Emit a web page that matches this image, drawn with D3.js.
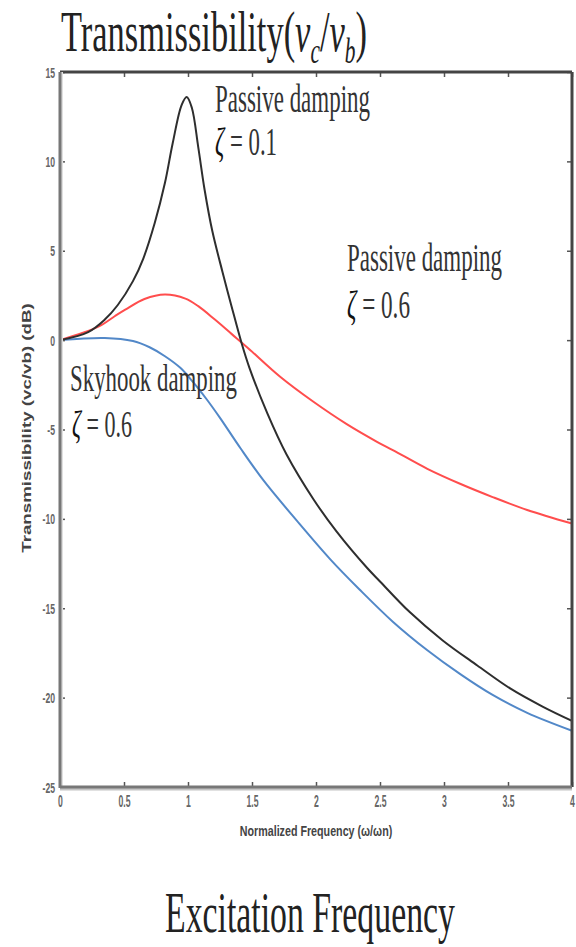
<!DOCTYPE html>
<html>
<head>
<meta charset="utf-8">
<script src="https://cdn.jsdelivr.net/npm/d3@7"></script>
<style>
  html, body { margin: 0; padding: 0; background: #fff; }
  svg { display: block; }
</style>
</head>
<body>
<svg id="chart" width="576" height="947"></svg>
<script>
// ---- data ----
const xTicks = [0, 0.5, 1, 1.5, 2, 2.5, 3, 3.5, 4];
const xTickLabels = ["0", "0.5", "1", "1.5", "2", "2.5", "3", "3.5", "4"];
const yTicks = [15, 10, 5, 0, -5, -10, -15, -20, -25];
const yTickLabels = ["15", "10", "5", "0", "-5", "-10", "-15", "-20", "-25"];

const freqPassive01 = [0, 0.22, 0.35, 0.45, 0.57, 0.65, 0.74, 0.82, 0.88, 0.95, 0.99, 1.03, 1.08, 1.13, 1.19, 1.27, 1.34, 1.42, 1.48, 1.62, 1.77, 1.98, 2.16, 2.40, 2.50, 2.73, 2.99, 3.26, 3.52, 3.77, 4.0];
const passive01 = [0, 0.45, 1.15, 1.95, 3.30, 4.55, 6.55, 8.80, 11.00, 13.15, 13.60, 13.00, 10.80, 8.40, 6.10, 3.80, 1.90, -0.20, -1.55, -4.10, -6.40, -8.90, -10.70, -12.75, -13.50, -15.20, -16.80, -18.20, -19.50, -20.50, -21.3];

const freqPassive06 = [0, 0.30, 0.43, 0.51, 0.66, 0.82, 0.98, 1.08, 1.21, 1.34, 1.47, 1.72, 1.98, 2.24, 2.48, 2.60, 2.87, 3.13, 3.38, 3.65, 4.0];
const passive06 = [0, 0.75, 1.35, 1.70, 2.30, 2.55, 2.32, 1.90, 1.15, 0.35, -0.45, -2.05, -3.45, -4.70, -5.70, -6.15, -7.20, -8.05, -8.78, -9.50, -10.26];

const freqSkyhook06 = [0, 0.35, 0.57, 0.70, 0.82, 0.94, 1.04, 1.15, 1.25, 1.41, 1.59, 1.85, 2.11, 2.34, 2.60, 2.87, 3.13, 3.38, 3.65, 4.0];
const skyhook06 = [0, 0.12, -0.05, -0.40, -0.90, -1.55, -2.35, -3.35, -4.35, -6.05, -7.85, -10.10, -12.25, -13.95, -15.75, -17.35, -18.70, -19.85, -20.85, -21.85];

// ---- layout ----
const svg = d3.select("#chart");
const L = 60, R = 572, T = 72, B = 787;
const x = d3.scaleLinear().domain([0, 4]).range([L, R]);
const y = d3.scaleLinear().domain([-25, 15]).range([B, T]);

svg.append("rect").attr("width", 576).attr("height", 947).attr("fill", "#fff");

// helper: squeeze a text horizontally to a target width
function fit(sel, px, py, width, sy) {
  const w = sel.node().getBBox().width;
  sel.attr("transform", `translate(${px},${py}) scale(${width / w},${sy || 1})`);
}

// ---- curves ----
const line = d3.line().x(d => x(d[0])).y(d => y(d[1])).curve(d3.curveCatmullRom.alpha(0.5));
const series = [
  { f: freqPassive06, v: passive06, color: "#ff4d4d" },
  { f: freqSkyhook06, v: skyhook06, color: "#5288c8" },
  { f: freqPassive01, v: passive01, color: "#2e2e2e" }
];
series.forEach(s => {
  svg.append("path")
    .datum(s.f.map((fv, i) => [fv, s.v[i]]))
    .attr("d", line)
    .attr("fill", "none")
    .attr("stroke", s.color)
    .attr("stroke-width", 2);
});

// ---- axes ----
const tickCol = "#555";
const gl = svg.append("g").attr("transform", `translate(${L},0)`)
  .call(d3.axisLeft(y).tickValues(yTicks).tickFormat((d, i) => yTickLabels[i]).tickSize(-5).tickPadding(5));
const gb = svg.append("g").attr("transform", `translate(0,${B})`)
  .call(d3.axisBottom(x).tickValues(xTicks).tickFormat((d, i) => xTickLabels[i]).tickSize(-5).tickPadding(9));
const gt = svg.append("g").attr("transform", `translate(0,${T})`)
  .call(d3.axisTop(x).tickValues(xTicks).tickFormat("").tickSize(-5));
const gr = svg.append("g").attr("transform", `translate(${R},0)`)
  .call(d3.axisRight(y).tickValues(yTicks).tickFormat("").tickSize(-5));
[gl, gb, gt, gr].forEach(g => {
  g.select(".domain").remove();
  g.selectAll(".tick line").attr("stroke", tickCol).attr("stroke-width", 1.5);
});
gl.selectAll(".tick text")
  .attr("font-family", "Liberation Sans, Arial, sans-serif").attr("font-size", 12)
  .attr("font-weight", "bold").attr("fill", "#666")
  .each(function () {
    const t = d3.select(this);
    const xx = +t.attr("x");
    t.attr("x", null).attr("dy", "0.35em").attr("transform", `translate(${xx},0) scale(0.72,1.2)`);
  });
gb.selectAll(".tick text")
  .attr("font-family", "Liberation Sans, Arial, sans-serif").attr("font-size", 12)
  .attr("font-weight", "bold").attr("fill", "#666")
  .each(function () {
    const t = d3.select(this);
    const yy = +t.attr("y");
    t.attr("y", null).attr("transform", `translate(0,${yy}) scale(0.72,1.3)`);
  });

// frame
svg.append("line").attr("x1", L).attr("x2", R).attr("y1", T).attr("y2", T).attr("stroke", "#444").attr("stroke-width", 3);
svg.append("line").attr("x1", R).attr("x2", R).attr("y1", T).attr("y2", B).attr("stroke", "#444").attr("stroke-width", 3);
svg.append("line").attr("x1", L).attr("x2", R).attr("y1", B + 2).attr("y2", B + 2).attr("stroke", "#c4c4c4").attr("stroke-width", 3);
svg.append("line").attr("x1", L + 2).attr("x2", L + 2).attr("y1", T).attr("y2", B).attr("stroke", "#e0e0e0").attr("stroke-width", 2);
svg.append("line").attr("x1", L).attr("x2", R).attr("y1", B).attr("y2", B).attr("stroke", "#777").attr("stroke-width", 3);
svg.append("line").attr("x1", L).attr("x2", L).attr("y1", T).attr("y2", B + 1).attr("stroke", "#777").attr("stroke-width", 3);

// ---- titles ----
const serif = "Liberation Serif, Times New Roman, serif";
const title = svg.append("text").attr("font-family", serif).attr("font-size", 58).attr("fill", "#222");
title.append("tspan").text("Transmissibility(");
title.append("tspan").attr("font-style", "italic").text("v");
title.append("tspan").attr("font-style", "italic").attr("font-size", 36).attr("dy", 12).text("c");
title.append("tspan").attr("dy", -12).text("/");
title.append("tspan").attr("font-style", "italic").text("v");
title.append("tspan").attr("font-style", "italic").attr("font-size", 36).attr("dy", 12).text("b");
title.append("tspan").attr("dy", -12).text(")");
fit(title, 61, 51, 306);

const bottomTitle = svg.append("text").attr("font-family", serif).attr("font-size", 58).attr("fill", "#222")
  .text("Excitation Frequency");
fit(bottomTitle, 165, 932, 290);

// axis labels (small)
const yl = svg.append("text").attr("font-family", "Liberation Sans, Arial, sans-serif").attr("font-size", 11)
  .attr("font-weight", "bold").attr("fill", "#444").attr("text-anchor", "middle")
  .text("Transmissibility (vc/vb) (dB)");
{
  const w = yl.node().getBBox().width;
  yl.attr("transform", `translate(31,428) rotate(-90) scale(${250 / w},1.1)`);
}
const xl = svg.append("text").attr("font-family", "Liberation Sans, Arial, sans-serif").attr("font-size", 11)
  .attr("font-weight", "bold").attr("fill", "#444").attr("text-anchor", "middle")
  .text("Normalized Frequency (ω/ωn)");
{
  const w = xl.node().getBBox().width;
  xl.attr("transform", `translate(316,836) scale(${153 / w},1.4)`);
}

// ---- annotations ----
function annot(txt, px, py, width) {
  const t = svg.append("text").attr("font-family", serif).attr("font-size", 39).attr("fill", "#333").text(txt);
  fit(t, px, py, width);
  return t;
}
function zeta(val, px, py, width) {
  const t = svg.append("text").attr("font-family", serif).attr("font-size", 39).attr("fill", "#333");
  t.append("tspan").attr("font-style", "italic").attr("fill", "#111").text("ζ");
  t.append("tspan").text(" = " + val);
  fit(t, px, py, width);
}
annot("Passive damping", 215, 112, 155);
zeta("0.1", 215, 155, 62);
annot("Passive damping", 347, 271, 155);
zeta("0.6", 347, 318, 63);
annot("Skyhook damping", 70, 391, 167);
zeta("0.6", 72, 437, 60);
</script>
</body>
</html>
